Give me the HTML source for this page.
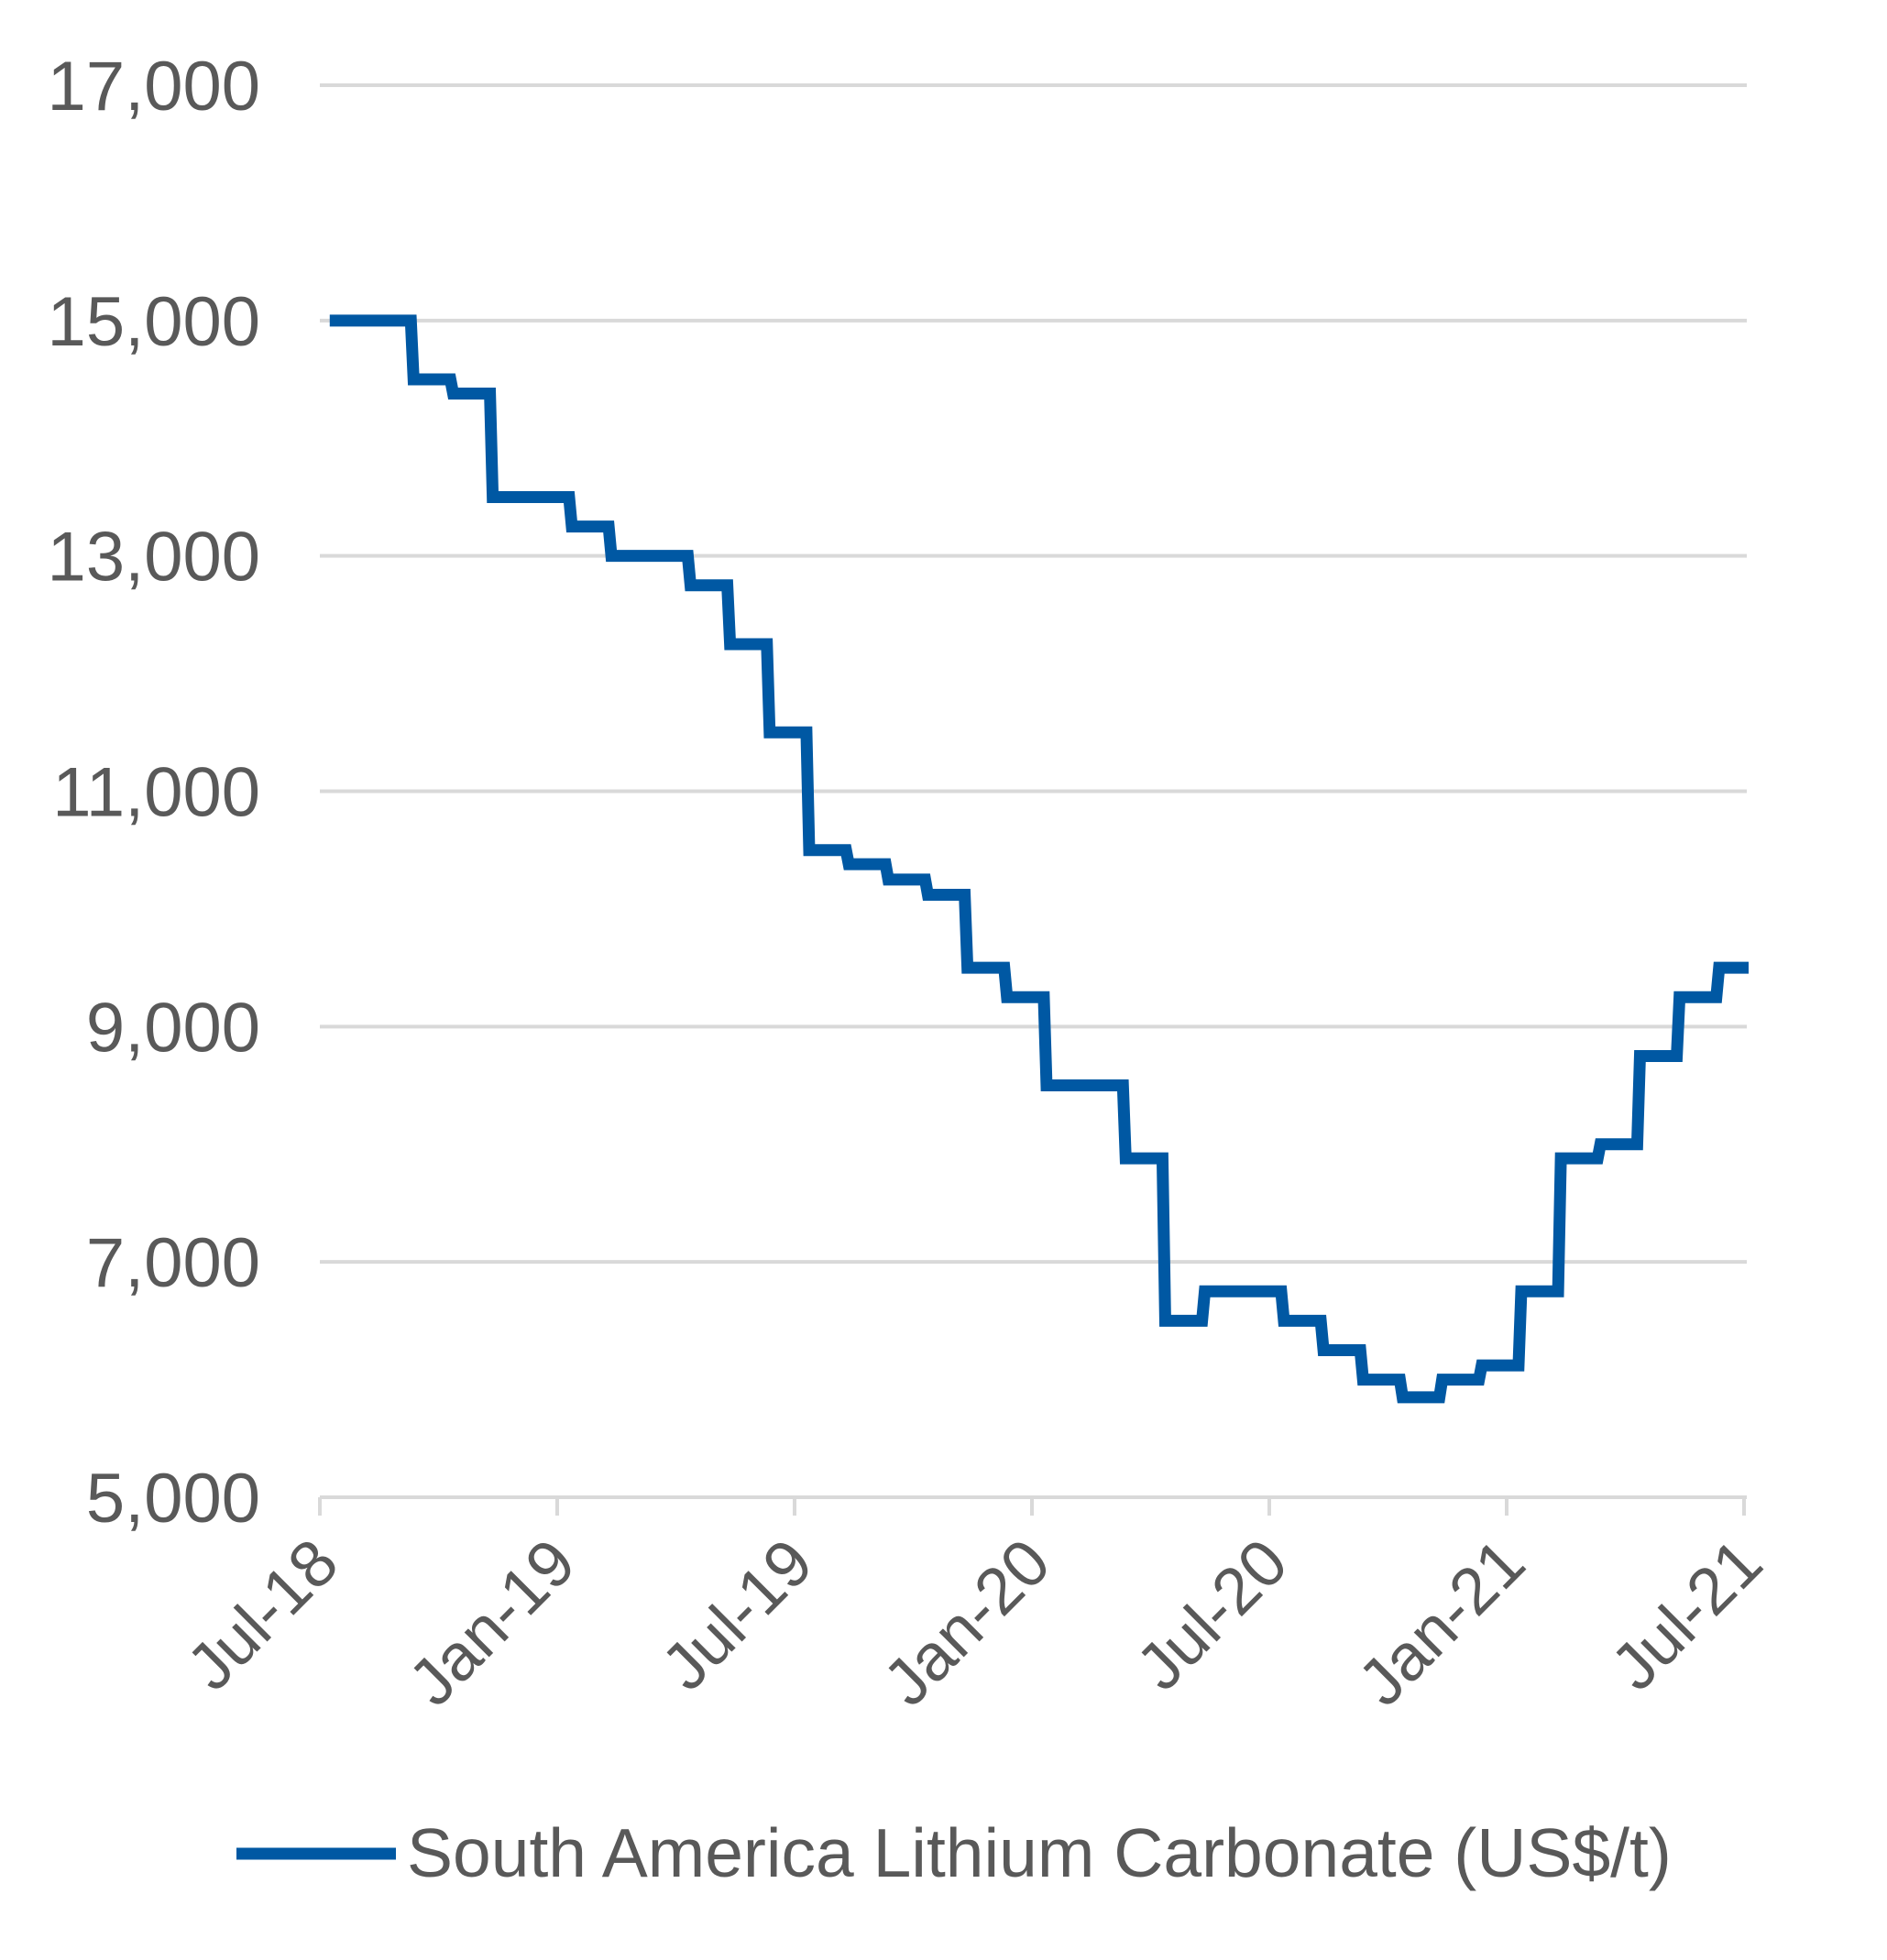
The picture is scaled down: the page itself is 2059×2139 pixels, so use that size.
<!DOCTYPE html>
<html><head><meta charset="utf-8"><style>
html,body{margin:0;padding:0;background:#fff;}
svg{display:block;font-family:"Liberation Sans",Arial,sans-serif;}
</style></head><body>
<svg id="chart" width="2059" height="2139" viewBox="0 0 2059 2139" xmlns="http://www.w3.org/2000/svg">
<g id="grid"></g>
<g id="yaxis"></g>
<g id="xaxis"></g>
<g id="series"></g>
<g>
<line x1="258" y1="2023" x2="432" y2="2023" stroke="#0058A3" stroke-width="13"/>
<text x="444" y="2048" font-size="75" fill="#595959">South America Lithium Carbonate (US$/t)</text>
</g>
</svg>
<script>
const yTicks = [5000, 7000, 9000, 11000, 13000, 15000, 17000];
const yTickLabels = ["5,000","7,000","9,000","11,000","13,000","15,000","17,000"];
const xTickLabels = ["Jul-18","Jan-19","Jul-19","Jan-20","Jul-20","Jan-21","Jul-21"];
const xTickMonths = [0, 6, 12, 18, 24, 30, 36];
const prices = [15000,15000,14500,14380,13500,13500,13250,13000,13000,12750,12250,11500,10500,10380,10250,10120,9500,9250,8500,8500,7880,6500,6750,6750,6500,6250,6000,5850,6000,6120,6750,7880,8000,8750,9250,9500];

const NS = "http://www.w3.org/2000/svg";
const X0 = 349, X1 = 1903, Y0 = 1634, Y1 = 93;
function xs(m){ return X0 + (X1 - X0) * m / 36; }
function ys(v){ return Y0 - (Y0 - Y1) * (v - 5000) / 12000; }
function mk(tag, attrs, parent){ const e = document.createElementNS(NS, tag); for (const k in attrs) e.setAttribute(k, attrs[k]); parent.appendChild(e); return e; }

const grid = document.getElementById('grid');
const yaxis = document.getElementById('yaxis');
const xaxis = document.getElementById('xaxis');
const series = document.getElementById('series');

yTicks.forEach((v, i) => {
  if (v !== 5000) {
    const l = mk('line', {x1: X0, x2: X1 + 3, y1: ys(v), y2: ys(v), stroke: '#d9d9d9', 'stroke-width': 4}, grid);
    
    
  }
  const t = mk('text', {x: 284, y: ys(v) + 27, 'text-anchor': 'end', 'font-size': 76, fill: '#595959'}, yaxis);
  t.textContent = yTickLabels[i];
  
  
});

const ax = mk('line', {x1: X0, x2: X1 + 3, y1: Y0, y2: Y0, stroke: '#d9d9d9', 'stroke-width': 4}, xaxis);


xTickMonths.forEach((m, i) => {
  const x = xs(m);
  const tk = mk('line', {x1: x, x2: x, y1: Y0, y2: Y0 + 20, stroke: '#d9d9d9', 'stroke-width': 4}, xaxis);
  
  
  const t = mk('text', {x: 0, y: 0, 'text-anchor': 'end', 'font-size': 72, fill: '#595959', transform: `translate(${x + 24},${Y0 + 76}) rotate(-45)`}, xaxis);
  t.textContent = xTickLabels[i];
  
  
});

let d = '';
prices.forEach((v, i) => {
  const x = xs(i === 0 ? 0.25 : i + 0.3);
  const y = ys(v);
  if (i === 0) d += `M${x},${y}`;
  else d += `L${x},${ys(prices[i-1])}L${x + 3},${y}`;
});
d += `L${xs(36) + 5},${ys(prices[prices.length - 1])}`;
const p = mk('path', {d: d, fill: 'none', stroke: '#0058A3', 'stroke-width': 13, 'stroke-linejoin': 'miter'}, series);


</script>
</body></html>
